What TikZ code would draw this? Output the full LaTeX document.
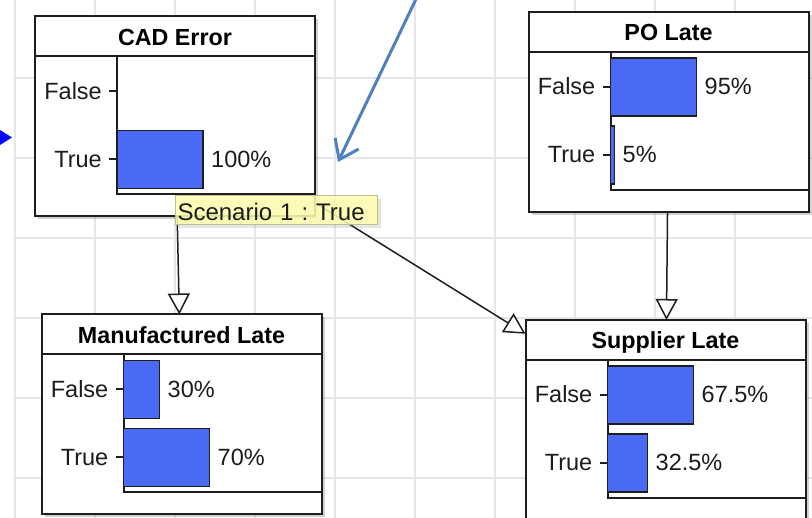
\documentclass[tikz,border=0pt]{standalone}
\usepackage{fontspec}
\setmainfont{Liberation Sans}
\usetikzlibrary{arrows.meta,shadows}
\frenchspacing

\definecolor{barblue}{RGB}{74,106,245}
\definecolor{gridgray}{RGB}{230,230,230}
\definecolor{edge}{RGB}{30,30,30}
\definecolor{inkgray}{RGB}{28,28,28}
\definecolor{noteblue}{RGB}{79,129,189}
\definecolor{tipfill}{RGB}{255,255,176}
\definecolor{tipedge}{RGB}{190,190,140}
\definecolor{markblue}{RGB}{10,10,250}

\tikzset{
  netnode/.style={draw=edge, line width=2pt, fill=white,
    minimum width=280pt, minimum height=200pt, inner sep=0pt, outer sep=0pt,
    drop shadow={shadow xshift=3pt, shadow yshift=-3pt, opacity=0.3, fill=black!60}},
  innerline/.style={draw=edge, line width=2pt},
  bar/.style={draw=edge, line width=1.8pt, fill=barblue},
  nodetitle/.style={inner sep=0pt, anchor=base, text=black,
    font=\fontsize{23.3}{28}\selectfont\bfseries},
  statelabel/.style={inner sep=0pt, anchor=base east, text=inkgray,
    font=\fontsize{23.5}{28}\selectfont},
  pctlabel/.style={inner sep=0pt, anchor=base west, text=inkgray,
    font=\fontsize{23.5}{28}\selectfont},
  link/.style={draw=edge, line width=1.5pt,
    -{Triangle[length=21pt, width=22pt, fill=white, line width=1.5pt]}},
  tooltip/.style={draw=tipedge, line width=1pt, fill=tipfill, fill opacity=0.85,
    text opacity=1, text=inkgray, anchor=base west, inner xsep=2pt, inner ysep=1pt,
    text width=198pt, align=left, text height=24pt, text depth=3pt,
    font=\fontsize{24}{28}\selectfont,
    drop shadow={shadow xshift=3pt, shadow yshift=-3pt, opacity=0.2, fill=black!50}},
  gridline/.style={draw=gridgray, line width=2pt},
  note/.style={draw=noteblue, line width=3pt, line cap=round,
    -{Straight Barb[length=18pt, width=26pt, line width=3pt]}}
}

% #1 name, #2 centre, #3 title, #4/#5 bar lengths, #6/#7 printed values
\newcommand\bnnode[7]{%
  \node[netnode] (#1) at #2 {};
  \begin{scope}[shift={(#1.north west)}]
    \draw[innerline] (0,40) -- (280,40);
    \node[nodetitle] (#1-title) at (140,29) {#3};
    \draw[innerline] (82,40) -- (82,178) -- (280,178);
    \draw[innerline] (74,75) -- (82,75);
    \draw[innerline] (74,143) -- (82,143);
    \node[statelabel] (#1-false) at (67,83) {False};
    \node[statelabel] (#1-true) at (67,151) {True};
    \ifdim #4pt>0pt \draw[bar] (82,46) rectangle (82+#4,104);\fi
    \ifdim #5pt>0pt \draw[bar] (82,114) rectangle (82+#5,172);\fi
    \if\relax\detokenize{#6}\relax\else
      \node[pctlabel] (#1-pf) at (90+#4,83) {#6};\fi
    \if\relax\detokenize{#7}\relax\else
      \node[pctlabel] (#1-pt) at (90+#5,151) {#7};\fi
  \end{scope}}

\begin{document}
\begin{tikzpicture}[x=1pt, y=-1pt]
  \useasboundingbox (0,0) rectangle (812,518);
  \fill[white] (0,0) rectangle (812,518);

  % background grid
  \foreach \gx in {15,95,...,815} \draw[gridline] (\gx,0) -- (\gx,518);
  \foreach \gy in {78,158,...,478} \draw[gridline] (13,\gy) -- (812,\gy);

  % marker at the left edge
  \fill[markblue] (0,130) -- (12,137.5) -- (0,145) -- cycle;

  % network nodes
  \bnnode{cad}{(175,116.5)}{CAD Error}{0}{86}{}{100\%}
  \bnnode{po}{(668.5,112)}{PO Late}{86}{4}{95\%}{5\%}
  \bnnode{mfg}{(181.5,414.5)}{Manufactured Late}{36}{86}{30\%}{70\%}
  \bnnode{sup}{(665.5,420)}{Supplier Late}{86}{40}{67.5\%}{32.5\%}

  % dependencies
  \draw[link] (cad) -- (mfg);
  \draw[link] (cad) -- (sup);
  \draw[link] (po) -- (sup);

  % scenario tooltip
  \node[tooltip] (scen) at (175,221) {Scenario 1 : True};

  % pointer arrow
  \coordinate (note-from) at (417,-3);
  \coordinate (note-to) at (338,162);
  \draw[note] (note-from) -- (note-to);
\end{tikzpicture}
\end{document}
